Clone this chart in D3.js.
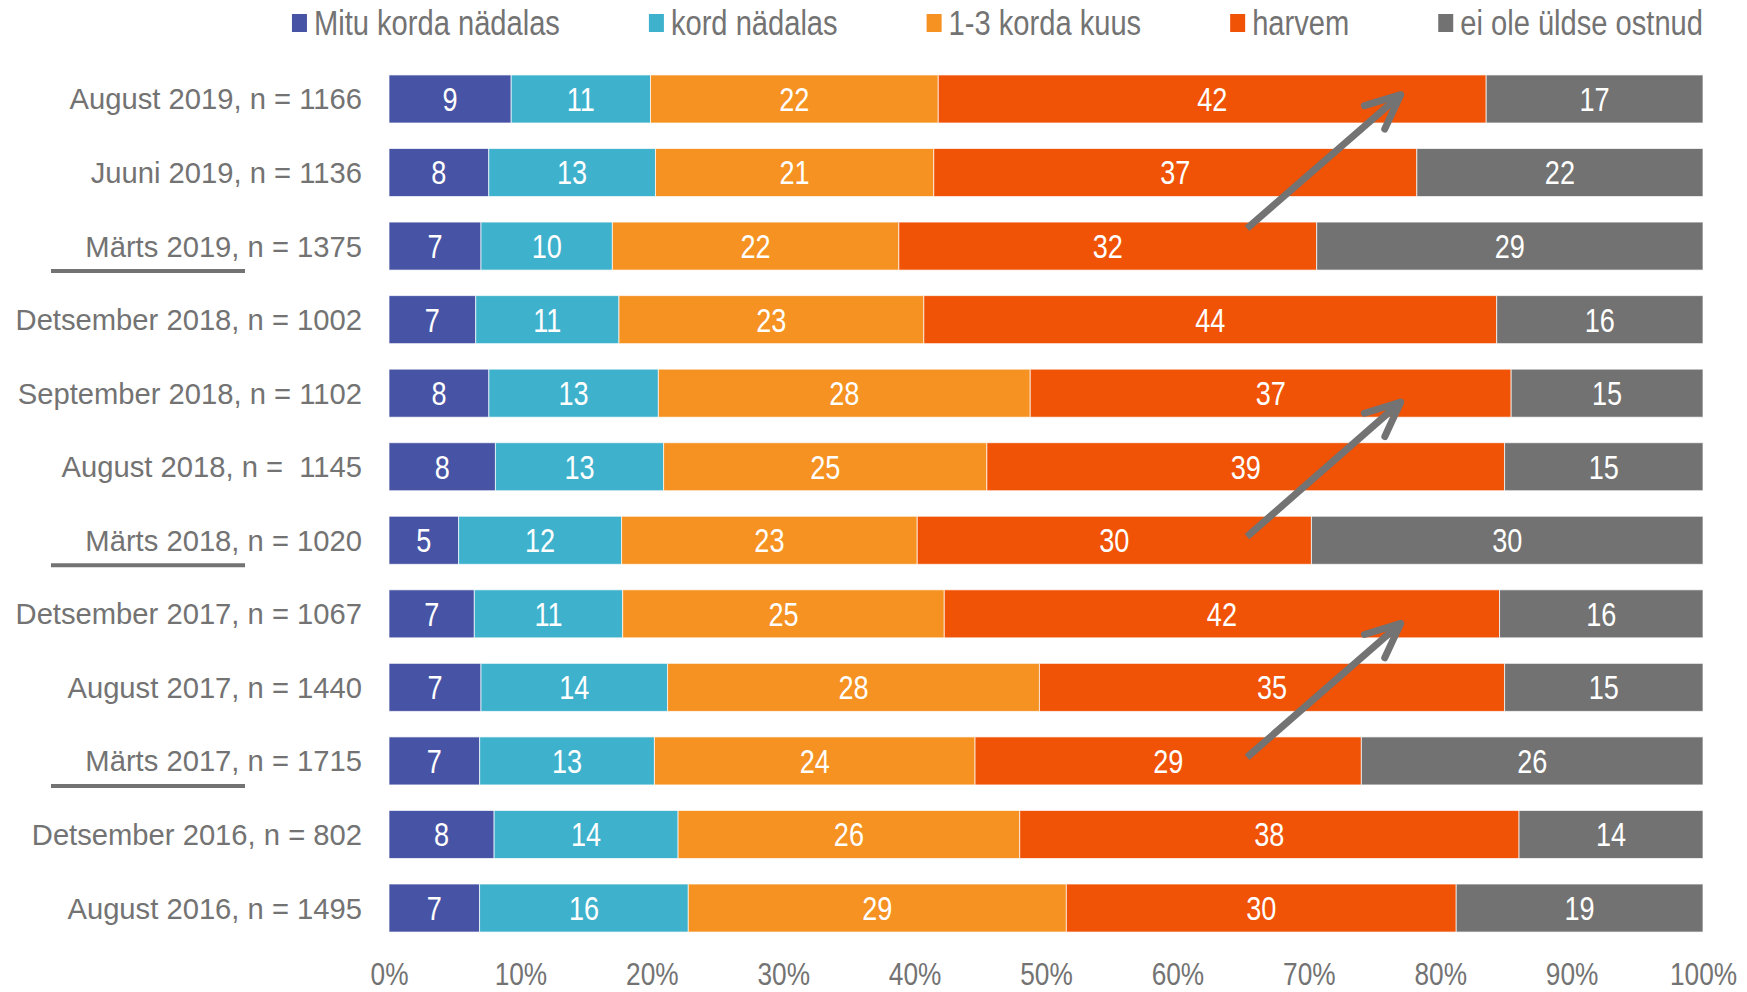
<!DOCTYPE html>
<html>
<head>
<meta charset="utf-8">
<script src="https://cdn.jsdelivr.net/npm/d3@7"></script>
<style>
  body { margin: 0; background: #fff; }
  svg { display: block; }
  text { white-space: pre; }
</style>
</head>
<body>
<svg id="chart" width="1747" height="992"></svg>
<script>
// survey waves (top to bottom)
const categories = [
  "August 2019, n = 1166", "Juuni 2019, n = 1136", "Märts 2019, n = 1375",
  "Detsember 2018, n = 1002", "September 2018, n = 1102", "August 2018, n =  1145",
  "Märts 2018, n = 1020", "Detsember 2017, n = 1067", "August 2017, n = 1440",
  "Märts 2017, n = 1715", "Detsember 2016, n = 802", "August 2016, n = 1495"
];
const seriesNames = ["Mitu korda nädalas", "kord nädalas", "1-3 korda kuus", "harvem", "ei ole üldse ostnud"];
const seriesColors = ["#4753a4", "#3eb1cd", "#f59221", "#f05206", "#727272"];

// shares in % (labels are the rounded values)
const mitu   = [9.3, 7.6, 7.0, 6.6, 7.6, 8.1, 5.3, 6.5, 7.0, 6.9, 8.0, 6.9];
const kord   = [10.6, 12.7, 10.0, 10.9, 12.9, 12.8, 12.4, 11.3, 14.2, 13.3, 14.0, 15.9];
const kuus   = [21.9, 21.2, 21.8, 23.2, 28.3, 24.6, 22.5, 24.5, 28.3, 24.4, 26.0, 28.8];
const harvem = [41.7, 36.8, 31.8, 43.6, 36.6, 39.4, 30.0, 42.3, 35.4, 29.4, 38.0, 29.7];
const eiOle  = [16.5, 21.8, 29.4, 15.7, 14.6, 15.1, 29.8, 15.5, 15.1, 26.0, 14.0, 18.8];

const tickValues = [0, 10, 20, 30, 40, 50, 60, 70, 80, 90, 100];
const underlined = ["Märts 2019, n = 1375", "Märts 2018, n = 1020", "Märts 2017, n = 1715"];
// trend arrows: x in %, y in row units
const arrows = [
  { x1: 65.3, r1: 1.76, x2: 77.0, r2: -0.06 },
  { x1: 65.3, r1: 5.95, x2: 77.0, r2: 4.12 },
  { x1: 65.3, r1: 8.95, x2: 77.0, r2: 7.13 }
];

const textGray = "#737373";
const svg = d3.select("#chart");

// check for narrow font
function measure(fam) {
  const t = svg.append("text").style("font-family", fam).style("font-size", "40px").text("Mitu korda nädalas");
  const w = t.node().getComputedTextLength();
  t.remove();
  return w;
}
const hasNarrow = measure("'Liberation Sans Narrow', 'Liberation Sans'") < 0.9 * measure("'Liberation Sans'");
const NARROW = "'Liberation Sans Narrow', 'Arial Narrow', 'Liberation Sans', Arial, sans-serif";
const REGULAR = "'Liberation Sans', Arial, sans-serif";
function narrow(sel) {
  sel.style("font-family", NARROW);
  if (!hasNarrow) {
    sel.each(function () {
      const w = this.getComputedTextLength();
      d3.select(this).attr("textLength", w * 0.82).attr("lengthAdjust", "spacingAndGlyphs");
    });
  }
  return sel;
}

const x = d3.scaleLinear().domain([0, 100]).range([389, 1703]);
const y = d3.scaleBand().domain(categories).range([62.2, 944.8]).paddingInner(0.347).paddingOuter(0.1735);
const yRow = d3.scaleLinear().domain([0, 1]).range([y(categories[0]) + y.bandwidth() / 2, y(categories[1]) + y.bandwidth() / 2]);

// table for the stack
const table = categories.map((c, i) => {
  const vals = [mitu[i], kord[i], kuus[i], harvem[i], eiOle[i]];
  const tot = d3.sum(vals);
  const row = { cat: c };
  seriesNames.forEach((s, k) => { row[s] = vals[k] / tot * 100; row[s + "_raw"] = vals[k]; });
  return row;
});
const stacked = d3.stack().keys(seriesNames)(table);

const layers = svg.append("g").selectAll("g")
  .data(stacked)
  .join("g")
  .attr("fill", (d, i) => seriesColors[i]);

layers.selectAll("rect")
  .data(d => d)
  .join("rect")
  .attr("x", d => x(d[0]))
  .attr("y", d => y(d.data.cat))
  .attr("width", d => x(d[1]) - x(d[0]))
  .attr("height", y.bandwidth())
  .attr("stroke", "#ffffff")
  .attr("stroke-opacity", 0.7)
  .attr("stroke-width", 1);

// value labels
const labels = svg.append("g").style("font-size", "33px").attr("fill", "#fff").attr("text-anchor", "middle");
stacked.forEach(layer => {
  labels.selectAll(null)
    .data(layer)
    .join("text")
    .attr("x", d => (x(d[0]) + x(d[1])) / 2)
    .attr("y", d => y(d.data.cat) + y.bandwidth() / 2)
    .attr("dy", "0.36em")
    .text(d => Math.round(d.data[layer.key + "_raw"]));
});
narrow(labels.selectAll("text"));

// category axis labels
svg.append("g").selectAll("text")
  .data(categories)
  .join("text")
  .attr("x", 362)
  .attr("y", d => y(d) + y.bandwidth() / 2)
  .attr("dy", "0.36em")
  .attr("text-anchor", "end")
  .attr("fill", textGray)
  .style("font-family", REGULAR)
  .style("font-size", "29.2px")
  .text(d => d);

svg.append("g").selectAll("line")
  .data(underlined)
  .join("line")
  .attr("x1", 51).attr("x2", 245)
  .attr("y1", d => y(d) + y.bandwidth() + 1)
  .attr("y2", d => y(d) + y.bandwidth() + 1)
  .attr("stroke", textGray)
  .attr("stroke-width", 4);

// x axis
const xAxis = svg.append("g")
  .attr("transform", "translate(0,973)")
  .call(d3.axisBottom(x).tickValues(tickValues).tickFormat(d => d + "%").tickSize(0).tickPadding(0));
xAxis.select(".domain").remove();
xAxis.selectAll("text")
  .attr("y", 0).attr("dy", "0.36em")
  .attr("fill", textGray)
  .style("font-size", "32px");
narrow(xAxis.selectAll("text"));

// legend, laid out from the right edge
const legend = svg.append("g");
const items = legend.selectAll("g").data(seriesNames).join("g");
items.append("rect")
  .attr("width", 15).attr("height", 18).attr("y", 14)
  .attr("fill", (d, i) => seriesColors[i]);
items.append("text")
  .attr("x", 22).attr("y", 22).attr("dy", "0.36em")
  .attr("fill", textGray)
  .style("font-size", "35.5px")
  .text(d => d);
narrow(items.selectAll("text"));
let cursor = 1703;
const widths = items.nodes().map(n => {
  const t = n.querySelector("text");
  const tl = t.getAttribute("textLength");
  return tl ? +tl : t.getComputedTextLength();
});
for (let i = seriesNames.length - 1; i >= 0; i--) {
  const start = cursor - widths[i] - 22;
  d3.select(items.nodes()[i]).attr("transform", `translate(${start},0)`);
  cursor = start - 89;
}

// trend arrows
const arrowG = svg.append("g").attr("stroke", textGray).attr("fill", "none").attr("stroke-width", 7);
arrows.forEach(a => {
  const x1 = x(a.x1), y1 = yRow(a.r1), x2 = x(a.x2), y2 = yRow(a.r2);
  const ang = Math.atan2(y1 - y2, x1 - x2);
  const len = 38, spread = 24 * Math.PI / 180;
  arrowG.append("line")
    .attr("x1", x1).attr("y1", y1).attr("x2", x2).attr("y2", y2);
  const pA = [x2 + len * Math.cos(ang + spread), y2 + len * Math.sin(ang + spread)];
  const pB = [x2 + len * Math.cos(ang - spread), y2 + len * Math.sin(ang - spread)];
  arrowG.append("path")
    .attr("d", d3.line()([pA, [x2, y2], pB]))
    .attr("stroke-linecap", "round")
    .attr("stroke-linejoin", "round");
});
</script>
</body>
</html>
